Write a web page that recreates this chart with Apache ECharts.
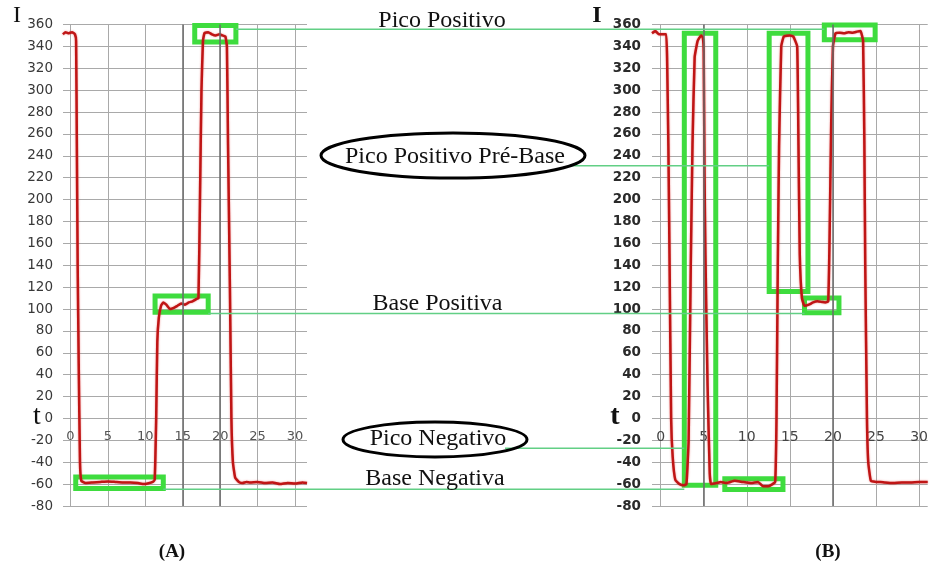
<!DOCTYPE html>
<html>
<head>
<meta charset="utf-8">
<script src="https://cdn.jsdelivr.net/npm/echarts@6/dist/echarts.min.js"></script>
<style>
html, body { margin: 0; padding: 0; background: #fff; }
#main { width: 931px; height: 568px; }
</style>
</head>
<body>
<div id="main"></div>
<script>
// curve (A): [t, I]
var curveA = [
  [-1.0, 351], [-0.7, 353], [-0.3, 352], [0.2, 353], [0.6, 351], [0.75, 345], [0.85, 250],
  [0.96, 140], [1.1, 50], [1.27, -40], [1.45, -57], [2, -59], [3, -58.5], [4, -58], [5, -57.5],
  [6, -58], [7, -58.5], [8, -58.5], [9, -59], [9.8, -60], [10.3, -59.5], [11, -58], [11.25, -56],
  [11.45, 0], [11.6, 70], [11.8, 92], [12.1, 103], [12.4, 106], [12.8, 104], [13.3, 100],
  [13.8, 101], [14.3, 103], [14.8, 105], [15.3, 104], [15.8, 106], [16.3, 107], [16.8, 109],
  [17.1, 110], [17.3, 200], [17.5, 300], [17.7, 345], [17.9, 352], [18.4, 353], [18.9, 351],
  [19.4, 350], [19.9, 351], [20.3, 350], [20.7, 349], [20.9, 340], [21.05, 250], [21.3, 120],
  [21.5, 0], [21.7, -40], [22.0, -54], [22.5, -58], [23, -59], [23.5, -58], [24, -58.5],
  [25, -58], [26, -59], [27, -58.5], [28, -60], [29, -59], [30, -59.5], [31, -58.5], [31.6, -59]
];

// curve (B): [t, I]
var curveB = [
  [-1.0, 352], [-0.6, 354], [-0.2, 351], [0.3, 351], [0.65, 351], [0.75, 330], [0.9, 250],
  [1.03, 150], [1.22, 0], [1.4, -35], [1.7, -56], [2.2, -60], [2.7, -61], [3.0, -60],
  [3.25, -20], [3.5, 140], [3.7, 250], [3.95, 330], [4.3, 345], [4.7, 350], [4.9, 348],
  [5.0, 335], [5.1, 220], [5.2, 150], [5.45, 30], [5.7, -50], [5.85, -60], [6.5, -59],
  [7, -58], [7.6, -59], [8.6, -57], [9.5, -58], [10.5, -59], [11.3, -58], [11.9, -62],
  [12.5, -62], [13.0, -60], [13.3, -58], [13.45, 0], [13.6, 140], [13.75, 250], [14.0, 340],
  [14.3, 349], [15.0, 350], [15.4, 349], [15.85, 340], [16.0, 250], [16.15, 150], [16.4, 110],
  [16.7, 103], [17.2, 104], [17.7, 106], [18.2, 107], [18.7, 106.5], [19.1, 106], [19.45, 107],
  [19.6, 160], [19.8, 270], [20.0, 340], [20.3, 352], [20.8, 352.5], [21.3, 352], [21.8, 353],
  [22.3, 352.5], [22.8, 353.5], [23.2, 354], [23.5, 345], [23.65, 250], [23.75, 140],
  [23.95, 0], [24.1, -40], [24.4, -57], [25, -58], [25.5, -58], [26, -58.5], [27, -59],
  [28, -58.5], [29, -58.5], [30, -58], [31, -58]
];

var xTicks = [0, 5, 10, 15, 20, 25, 30];
var darkLinesA = [15, 20];
var darkLinesB = [5, 20];

// highlighted regions: [t1, I1, t2, I2]
var boxesA = [
  [16.6, 344, 22.1, 359],
  [11.3, 97, 18.4, 112],
  [0.7, -64, 12.4, -53.5]
];
var boxesB = [
  [2.75, -61, 6.4, 352],
  [12.6, 116, 17.1, 352],
  [19.0, 346, 24.9, 359.6],
  [16.7, 96.5, 20.7, 110],
  [7.45, -65, 14.2, -55]
];

// guide levels (I value) joining the two charts
var levelPicoPos = 355.6, levelPreBase = 230.9, levelBasePos = 95.9,
    levelPicoNeg = -27.3, levelBaseNeg = -64.7;

var GREEN = '#3edc3e';
var GUIDE = '#62cf85';
var GRID = '#a9a9a9';
var GRID_BOTTOM = 62, HEIGHT = 568;

var chart = echarts.init(document.getElementById('main'));

function toArea(b) {
  return [{ coord: [b[0], b[1]] }, { coord: [b[2], b[3]] }];
}

function xAxisFor(g, max, size, color) {
  return {
    type: 'value', gridIndex: g, min: -1, max: max, position: 'bottom', offset: 0,
    axisLine: { show: false, onZero: false },
    axisTick: { show: false, customValues: xTicks },
    axisLabel: { customValues: xTicks, margin: 12, color: color, fontSize: size, fontFamily: 'DejaVu Sans' },
    splitLine: { show: true, lineStyle: { color: GRID, width: 1 } }
  };
}

function yAxisFor(g, size, weight, color, margin) {
  return {
    type: 'value', gridIndex: g, min: -80, max: 360, interval: 20,
    axisLine: { show: false, onZero: false }, axisTick: { show: false },
    axisLabel: { margin: margin, color: color, fontSize: size, fontWeight: weight, fontFamily: 'DejaVu Sans' },
    splitLine: { lineStyle: { color: GRID, width: 1 } }
  };
}

function curveSeries(g, data, dark, boxes, boxWidth) {
  return {
    type: 'line', xAxisIndex: g, yAxisIndex: g, data: data,
    showSymbol: false, smooth: 0.12, animation: false,
    lineStyle: { color: '#bf1515', width: 2.5, shadowBlur: 2, shadowColor: 'rgba(225,60,60,0.6)' },
    markLine: {
      silent: true, symbol: 'none', label: { show: false }, animation: false,
      lineStyle: { color: '#6a6a6a', width: 1.5, type: 'solid' },
      data: dark.map(function (v) { return { xAxis: v }; })
    },
    markArea: {
      silent: true, animation: false,
      itemStyle: { color: 'rgba(0,0,0,0)', borderColor: GREEN, borderWidth: boxWidth },
      data: boxes.map(toArea)
    }
  };
}

chart.setOption({
  animation: false,
  grid: [
    { left: 63, right: 624, top: 24.5, bottom: GRID_BOTTOM },
    { left: 652, right: 0, top: 24.5, bottom: GRID_BOTTOM }
  ],
  xAxis: [xAxisFor(0, 31.6, 13, '#555'), xAxisFor(1, 31, 14, '#444')],
  yAxis: [yAxisFor(0, 13.5, 'normal', '#383838', 10), yAxisFor(1, 13.5, 'bold', '#2a2a2a', 11)],
  series: [
    curveSeries(0, curveA, darkLinesA, boxesA, 5),
    curveSeries(1, curveB, darkLinesB, boxesB, 5)
  ]
});

function px(g, t, v) { return chart.convertToPixel({ gridIndex: g }, [t, v]); }

// move the t-axis labels up to the I = 0 line (Excel style crossing)
var zeroOffset = px(0, 0, 0)[1] - (HEIGHT - GRID_BOTTOM);
chart.setOption({ xAxis: [{ offset: zeroOffset }, { offset: zeroOffset }] });

function guide(a, b) {
  return { type: 'line', z: 50, shape: { x1: a[0], y1: a[1], x2: b[0], y2: b[1] },
           style: { stroke: GUIDE, lineWidth: 1.5 } };
}
function label(text, x, y, font) {
  return { type: 'text', z: 60, x: x, y: y,
           style: { text: text, font: font, fill: '#111', align: 'center', verticalAlign: 'middle' } };
}

var pPos = px(1, 19.0, levelPicoPos);
var pPre = px(1, 12.6, levelPreBase);
var pNeg = px(1, 2.75, levelPicoNeg);
var serif = '24px "Liberation Serif", "DejaVu Serif", serif';

chart.setOption({
  graphic: [
    guide(px(0, 22.1, levelPicoPos), pPos),
    guide([572, pPre[1]], pPre),
    guide(px(0, 18.4, levelBasePos), px(1, 16.7, levelBasePos)),
    guide([505, pNeg[1]], pNeg),
    guide(px(0, 12.4, levelBaseNeg), px(1, 2.75, levelBaseNeg)),

    label('Pico Positivo', 442, 20.5, serif),
    label('Pico Positivo Pré-Base', 455, 157, serif),
    label('Base Positiva', 437.5, 303.5, serif),
    label('Pico Negativo', 438, 438.5, serif),
    label('Base Negativa', 435, 479, serif),
    { type: 'ellipse', z: 55, shape: { cx: 453, cy: 155.5, rx: 132, ry: 22.5 },
      style: { fill: 'none', stroke: '#000', lineWidth: 3 } },
    { type: 'ellipse', z: 55, shape: { cx: 435, cy: 439.5, rx: 92, ry: 17.5 },
      style: { fill: 'none', stroke: '#000', lineWidth: 3 } },

    label('I', 17, 16, '24px "Liberation Serif", serif'),
    label('t', 37, 417, '28px "Liberation Serif", serif'),
    label('I', 597, 16, 'bold 24px "Liberation Serif", serif'),
    label('t', 615, 417, 'bold 28px "Liberation Serif", serif'),
    label('(A)', 172, 552, 'bold 19px "Liberation Serif", serif'),
    label('(B)', 828, 552, 'bold 19px "Liberation Serif", serif')
  ]
});
</script>
</body>
</html>
